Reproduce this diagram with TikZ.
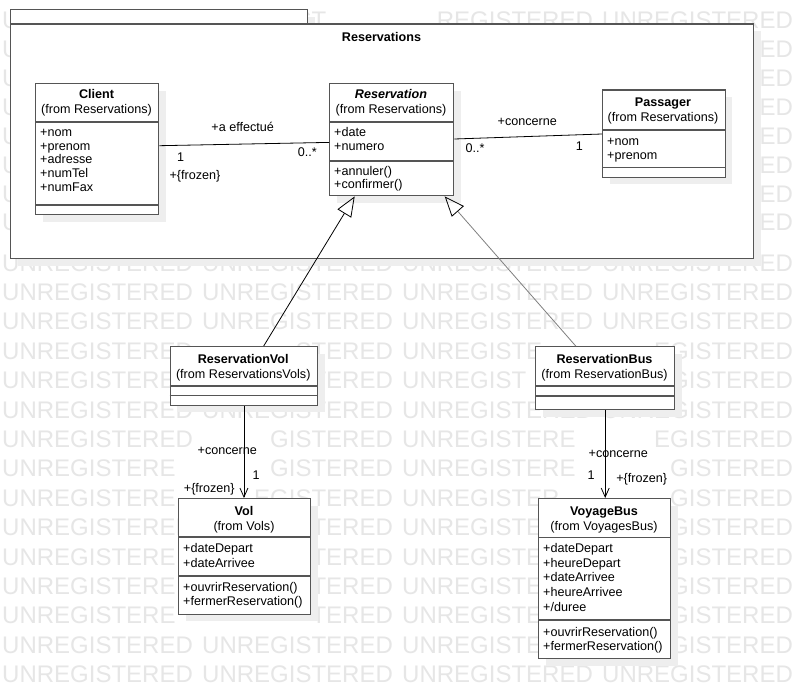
\documentclass[tikz,border=0pt]{standalone}
\usepackage{fontspec}
\setmainfont{Liberation Sans}
\usetikzlibrary{arrows.meta,shadows}
\definecolor{boxc}{HTML}{555555}
\definecolor{shad}{HTML}{EEEEEE}
\definecolor{wmark}{HTML}{E6E6E6}
\pgfdeclarelayer{bglayer}
\pgfdeclarelayer{wmlayer}
\pgfsetlayers{bglayer,wmlayer,main}
\newdimen\wmL \newdimen\wmR \newdimen\wmB \newdimen\wmT \newdimen\wmGB \newdimen\wmGT
\newif\ifwmkeep
\protected\def\wmrect#1#2#3{%
  \ifdim\wmL<#2\relax\ifdim\wmR>#1\relax
    \ifdim\wmB<\dimexpr#3+11.4pt\relax\ifdim\wmT>\dimexpr#3-2.7pt\relax
      \wmkeepfalse\fi\fi\fi\fi}
\protected\def\wmbox#1#2#3#4{%
  \ifdim\wmL<#1\relax\else\ifdim\wmR>#2\relax\else
  \ifdim\wmGT>#3\relax\else\ifdim\wmGB<#4\relax\else
    \wmkeepfalse\fi\fi\fi\fi}
\tikzset{
  wm/.style={text=wmark, font=\fontsize{24}{24}\selectfont, anchor=base west, inner sep=0pt},
  umlbox/.style={draw=boxc, line width=1.4pt, fill=white, anchor=north west, inner sep=0pt,
    drop shadow={shadow xshift=7pt, shadow yshift=-7pt, fill=shad, opacity=1}},
  sepline/.style={draw=boxc, line width=1.4pt},
  txt/.style={font=\fontsize{12.6}{14}\selectfont, inner sep=0pt, anchor=base},
  attr/.style={txt, anchor=base west},
  cname/.style={txt, font=\fontsize{12.6}{14}\selectfont\bfseries},
  assoc/.style={draw=black, line width=0.8pt},
  gen/.style={line width=0.8pt, -{Triangle[open, length=20pt, width=16pt, color=black]}},
  nav/.style={assoc, -{Straight Barb[length=9pt, width=8pt]}},
}
\begin{document}
\begin{tikzpicture}[x=1pt,y=-1pt]
\begin{pgfonlayer}{bglayer}
\fill[white] (0,0) rectangle (794,698);
\end{pgfonlayer}
\useasboundingbox (0,0) rectangle (794,698);

% package
\node[umlbox, minimum width=297pt, minimum height=14.5pt] (pkgtab) at (10,9) {};
\node[umlbox, minimum width=743pt, minimum height=234.5pt] (pkg) at (10,23.5) {};
\node[cname] (pkgtitle) at (381.5,42) {Reservations};

% Client
\node[umlbox, minimum width=123pt, minimum height=131pt] (cli) at (35,83) {};
\draw[sepline] ([yshift=-39pt]cli.north west) -- ([yshift=-39pt]cli.north east);
\draw[sepline] ([yshift=-122pt]cli.north west) -- ([yshift=-122pt]cli.north east);
\node[cname] (cli-n) at (96.5,98.5) {Client};
\node[txt] (cli-f) at (96.5,113.5) {(from Reservations)};
\node[attr] (cli-a1) at (40,136) {+nom};
\node[attr] (cli-a2) at (40,150) {+prenom};
\node[attr] (cli-a3) at (40,163.5) {+adresse};
\node[attr] (cli-a4) at (40,177.5) {+numTel};
\node[attr] (cli-a5) at (40,191) {+numFax};

% Reservation
\node[umlbox, minimum width=124pt, minimum height=112pt] (res) at (329,83) {};
\draw[sepline] ([yshift=-39pt]res.north west) -- ([yshift=-39pt]res.north east);
\draw[sepline] ([yshift=-78pt]res.north west) -- ([yshift=-78pt]res.north east);
\node[cname, font=\fontsize{12.6}{14}\selectfont\bfseries\itshape] (res-n) at (391,99) {Reservation};
\node[txt] (res-f) at (391,113.5) {(from Reservations)};
\node[attr] (res-a1) at (334,136.5) {+date};
\node[attr] (res-a2) at (334,150) {+numero};
\node[attr] (res-o1) at (334,175) {+annuler()};
\node[attr] (res-o2) at (334,188.5) {+confirmer()};

% Passager
\node[umlbox, minimum width=122.5pt, minimum height=87pt] (pas) at (602,89.5) {};
\draw[sepline] ([yshift=-40.5pt]pas.north west) -- ([yshift=-40.5pt]pas.north east);
\draw[sepline] ([yshift=-78pt]pas.north west) -- ([yshift=-78pt]pas.north east);
\node[cname] (pas-n) at (663,106.5) {Passager};
\node[txt] (pas-f) at (663,121.5) {(from Reservations)};
\node[attr] (pas-a1) at (607,145) {+nom};
\node[attr] (pas-a2) at (607,159) {+prenom};

% ReservationVol
\node[umlbox, minimum width=147.5pt, minimum height=58.5pt] (rv) at (169.5,346) {};
\draw[sepline] ([yshift=-40pt]rv.north west) -- ([yshift=-40pt]rv.north east);
\draw[sepline] ([yshift=-49.5pt]rv.north west) -- ([yshift=-49.5pt]rv.north east);
\node[cname] (rv-n) at (243.25,363.5) {ReservationVol};
\node[txt] (rv-f) at (243.25,378.5) {(from ReservationsVols)};

% ReservationBus
\node[umlbox, minimum width=139pt, minimum height=63pt] (rb) at (535,346) {};
\draw[sepline] ([yshift=-40pt]rb.north west) -- ([yshift=-40pt]rb.north east);
\draw[sepline] ([yshift=-50pt]rb.north west) -- ([yshift=-50pt]rb.north east);
\node[cname] (rb-n) at (604.5,363.5) {ReservationBus};
\node[txt] (rb-f) at (604.5,378.5) {(from ReservationBus)};

% Vol
\node[umlbox, minimum width=132pt, minimum height=115.5pt] (vol) at (178,498) {};
\draw[sepline] ([yshift=-39pt]vol.north west) -- ([yshift=-39pt]vol.north east);
\draw[sepline] ([yshift=-78pt]vol.north west) -- ([yshift=-78pt]vol.north east);
\node[cname] (vol-n) at (244,515) {Vol};
\node[txt] (vol-f) at (244,530) {(from Vols)};
\node[attr] (vol-a1) at (183,552.5) {+dateDepart};
\node[attr] (vol-a2) at (183,567) {+dateArrivee};
\node[attr] (vol-o1) at (183,591) {+ouvrirReservation()};
\node[attr] (vol-o2) at (183,605.5) {+fermerReservation()};

% VoyageBus
\node[umlbox, minimum width=132pt, minimum height=160pt] (vb) at (538,498) {};
\draw[sepline] ([yshift=-39.5pt]vb.north west) -- ([yshift=-39.5pt]vb.north east);
\draw[sepline] ([yshift=-122pt]vb.north west) -- ([yshift=-122pt]vb.north east);
\node[cname] (vb-n) at (604,515) {VoyageBus};
\node[txt] (vb-f) at (604,530) {(from VoyagesBus)};
\node[attr] (vb-a1) at (543,552.5) {+dateDepart};
\node[attr] (vb-a2) at (543,567) {+heureDepart};
\node[attr] (vb-a3) at (543,581.5) {+dateArrivee};
\node[attr] (vb-a4) at (543,596) {+heureArrivee};
\node[attr] (vb-a5) at (543,611) {+/duree};
\node[attr] (vb-o1) at (543,636) {+ouvrirReservation()};
\node[attr] (vb-o2) at (543,650.5) {+fermerReservation()};

% connectors
\draw[assoc] ([yshift=3.5pt]cli.east) -- ([yshift=-2.7pt]res.west);
\draw[assoc] ([yshift=0.7pt]res.east) -- ([yshift=-0.3pt]pas.west);
\draw[gen, draw=black] ([xshift=19.75pt]rv.north) -- ([xshift=-37pt]res.south);
\draw[gen, draw=gray] ([xshift=-29.5pt]rb.north) -- ([xshift=53pt]res.south);
\draw[nav] (rv.south) -- (rv.south |- vol.north);
\draw[nav] (rb.south) -- (rb.south |- vb.north);

% association labels
\node[txt] (l1) at (242.7,131.5) {+a effectué};
\node[txt] (l2) at (180.7,161) {1};
\node[txt] (l3) at (307.3,156.5) {0..*};
\node[txt] (l4) at (195,179) {+\{frozen\}};
\node[txt] (l5) at (527.3,125) {+concerne};
\node[txt] (l6) at (475,152) {0..*};
\node[txt] (l7) at (579.3,150) {1};
\node[txt] (l8) at (227.3,454) {+concerne};
\node[txt] (l9) at (256,479) {1};
\node[txt] (l10) at (209.3,492.5) {+\{frozen\}};
\node[txt] (l11) at (618.3,457) {+concerne};
\node[txt] (l12) at (591,479) {1};
\node[txt] (l13) at (641.7,482.5) {+\{frozen\}};

% watermark, behind everything; letters kept only where they are visible and meet no text
\begin{pgfonlayer}{wmlayer}
\gdef\wmtexts{}
\foreach \n in {pkgtitle,cli-n,cli-f,cli-a1,cli-a2,cli-a3,cli-a4,cli-a5,res-n,res-f,res-a1,res-a2,res-o1,res-o2,pas-n,pas-f,pas-a1,pas-a2,rv-n,rv-f,rb-n,rb-f,vol-n,vol-f,vol-a1,vol-a2,vol-o1,vol-o2,vb-n,vb-f,vb-a1,vb-a2,vb-a3,vb-a4,vb-a5,vb-o1,vb-o2,l1,l2,l3,l4,l5,l6,l7,l8,l9,l10,l11,l12,l13} {
  \pgfpointanchor{\n}{base west}\pgfgetlastxy{\xa}{\ya}
  \pgfpointanchor{\n}{base east}\pgfgetlastxy{\xb}{\yb}
  \xdef\wmtexts{\wmtexts\wmrect{\xa}{\xb}{\ya}}
}
\gdef\wmboxes{\wmbox{10pt}{307pt}{-9pt}{-258pt}}
\foreach \n in {cli,res,pas,rv,rb,vol,vb,pkg,pkgtab} {
  \pgfpointanchor{\n}{north west}\pgfgetlastxy{\xa}{\ya}
  \pgfpointanchor{\n}{south east}\pgfgetlastxy{\xb}{\yb}
  \xdef\wmboxes{\wmboxes\wmbox{\xa}{\xb}{\ya}{\yb}}
}
\foreach \r [count=\i] in {29,58,87,115,144,173,202,230,271,300.4,329.8,359.2,388.6,418,447.4,476.8,506.2,535.6,565,594.4,623.8,653.2,682.6} {
  \foreach \c [count=\j] in {2,202,402,602} {
    \foreach \ox/\ch/\w [count=\k] in {0/U/17.328,17.328/N/17.328,34.656/R/17.328,51.984/E/16.008,67.992/G/18.672,86.664/I/6.672,93.336/S/16.008,109.344/T/14.664,124.008/E/16.008,140.016/R/17.328,157.344/E/16.008,173.352/D/17.328} {
      \wmL=\dimexpr\c pt+\ox pt\relax
      \wmR=\dimexpr\wmL+\w pt\relax
      \wmB=\dimexpr-\r pt-5.1pt\relax
      \wmT=\dimexpr-\r pt+21.7pt\relax
      \wmGB=\dimexpr-\r pt-0.5pt\relax
      \wmGT=\dimexpr-\r pt+17.8pt\relax
      \wmkeeptrue
      \wmtexts
      \wmboxes
      \ifwmkeep\node[wm] (wm-\i-\j-\k) at (\c+\ox,\r) {\ch};\fi
    }
  }
}
\end{pgfonlayer}
\end{tikzpicture}
\end{document}
